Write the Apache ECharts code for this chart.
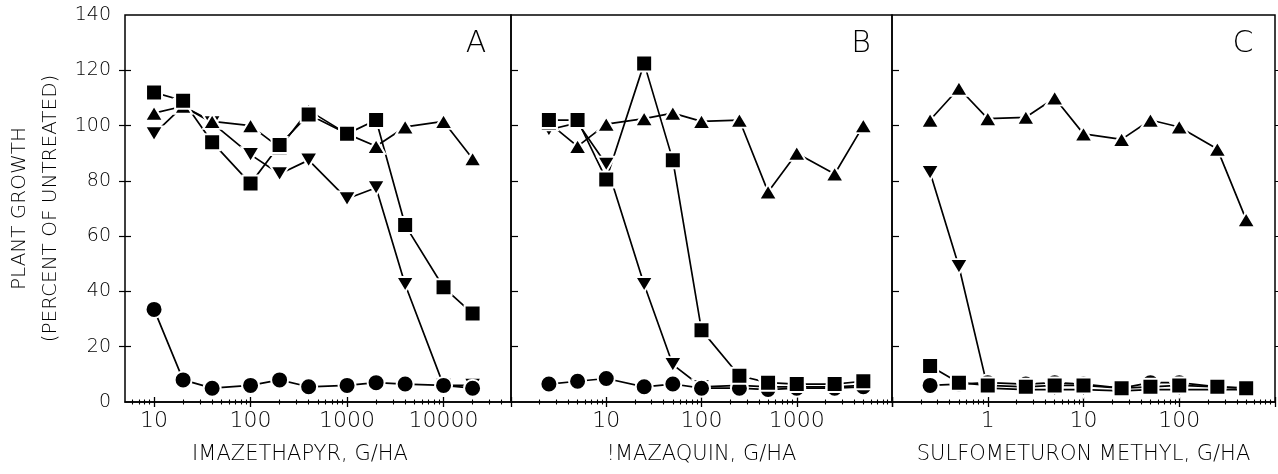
<!DOCTYPE html>
<html>
<head>
<meta charset="utf-8">
<script src="https://cdn.jsdelivr.net/npm/echarts@6/dist/echarts.min.js"></script>
<style>
  html, body { margin: 0; padding: 0; background: #fff; }
  #chart { width: 1278px; height: 474px; }
</style>
</head>
<body>
<div id="chart"></div>
<script>
// Plant growth (percent of untreated) versus herbicide rate, three herbicides.
const yTickValues = [20, 40, 60, 80, 100, 120];

// A: imazethapyr
const doseA   = [10, 20, 40, 100, 200, 400, 1000, 2000, 4000, 10000, 20000];
const squareA = [112, 109, 94, 79, 93, 104, 97, 102, 64, 41.5, 32];
const upA     = [104.5, 107, 101.5, 100, 92, 105.5, 97, 92.5, 99.5, 101.5, 88];
const downA   = [97, 107, 101, 89.5, 82.5, 87.5, 73.5, 77.5, 42.5, 6, 6];
const circleA = [33.5, 8, 5, 6, 8, 5.5, 6, 7, 6.5, 6, 5];
const labelsA = [10, 100, 1000, 10000];

// B: imazaquin
const doseB   = [2.5, 5, 10, 25, 50, 100, 250, 500, 1000, 2500, 5000];
const squareB = [102, 102, 80.5, 122.5, 87.5, 26, 9.5, 7, 6.5, 6.5, 7.5];
const upB     = [101, 92.5, 100.5, 102.5, 104.5, 101.5, 102, 76, 90, 82.5, 100];
const downB   = [98.5, 101, 86, 42.5, 13.5, 5.5, 6, 5.5, 5.5, 5.5, 6];
const circleB = [6.5, 7.5, 8.5, 5.5, 6.5, 5, 5, 4.5, 5, 5, 5.5];
const labelsB = [10, 100, 1000];

// C: sulfometuron methyl
const doseC   = [0.25, 0.5, 1, 2.5, 5, 10, 25, 50, 100, 250, 500];
const squareC = [13, 7, 6, 5.5, 6, 6, 5, 5.5, 6, 5.5, 5];
const upC     = [102, 113.5, 102.5, 103, 110, 97, 95, 102, 99.5, 91.5, 66];
const downC   = [83, 49, 5, 4.5, 4.5, 4.5, 4, 4.5, 4.5, 4.5, 4.5];
const circleC = [6, 6.5, 7, 6.5, 7, 6.5, 5, 7, 7, 5.5, 5];
const labelsC = [1, 10, 100];

const FONT = "'DejaVu Sans', 'Liberation Sans', sans-serif";
const INK = '#000';

const panels = [
  { grid: { left: 125, width: 386 }, min: 5,   max: 50000, labels: labelsA,
    title: 'IMAZETHAPYR, G/HA', namePad: [0, 36, 0, 0], letter: 'A', letterX: 476,
    dose: doseA, sq: squareA, up: upA, down: downA, circ: circleA },
  { grid: { left: 511, width: 381 }, min: 1,   max: 10000, labels: labelsB,
    title: '!MAZAQUIN, G/HA', namePad: [0, 0, 0, 0], letter: 'B', letterX: 861,
    dose: doseB, sq: squareB, up: upB, down: downB, circ: circleB },
  { grid: { left: 892, width: 383 }, min: 0.1, max: 1000,  labels: labelsC,
    title: 'SULFOMETURON METHYL, G/HA', namePad: [0, 0, 0, 0], letter: 'C', letterX: 1243,
    dose: doseC, sq: squareC, up: upC, down: downC, circ: circleC }
];

// tick positions on a log axis: decades and the 2..9 multiples between them
function decadeTicks(min, max) {
  const out = [];
  for (let e = Math.floor(Math.log10(min)); e <= Math.ceil(Math.log10(max)); e++) {
    const v = Math.pow(10, e);
    if (v >= min * 0.999 && v <= max * 1.001) out.push(+v.toPrecision(6));
  }
  return out;
}
function minorTicks(min, max) {
  const out = [];
  for (let e = Math.floor(Math.log10(min)); e <= Math.ceil(Math.log10(max)); e++) {
    for (let k = 2; k <= 9; k++) {
      const v = +(k * Math.pow(10, e)).toPrecision(6);
      if (v > min * 1.001 && v < max * 0.999) out.push(v);
    }
  }
  return out;
}

const grids = [], xAxes = [], yAxes = [], series = [], graphics = [];

panels.forEach((p, i) => {
  grids.push({ left: p.grid.left, width: p.grid.width, top: 15, height: 387,
    show: true, borderColor: INK, borderWidth: 1.5, backgroundColor: 'transparent' });

  const mainX = xAxes.length;
  // axis carrying the labels and title
  xAxes.push({
    type: 'log', logBase: 10, gridIndex: i, min: p.min, max: p.max, position: 'bottom',
    axisLine: { show: true, lineStyle: { color: INK, width: 1.5 } },
    axisTick: { show: false },
    splitLine: { show: false }, minorSplitLine: { show: false },
    axisLabel: { show: true, customValues: p.labels, margin: 8, color: INK,
      fontFamily: FONT, fontSize: 22, fontWeight: 200,
      formatter: v => String(+Number(v).toPrecision(6)) },
    name: p.title, nameLocation: 'middle', nameGap: 41,
    nameTextStyle: { fontFamily: FONT, fontSize: 21, fontWeight: 200, color: INK,
      lineHeight: 24, padding: p.namePad }
  });
  // decade ticks crossing the axis line
  xAxes.push({
    type: 'log', logBase: 10, gridIndex: i, min: p.min, max: p.max, position: 'bottom', offset: -5,
    axisLine: { show: false }, splitLine: { show: false }, axisLabel: { show: false },
    axisTick: { show: true, customValues: decadeTicks(p.min, p.max), length: 10,
      lineStyle: { color: INK, width: 1.3 } }
  });
  // intermediate ticks crossing the axis line
  xAxes.push({
    type: 'log', logBase: 10, gridIndex: i, min: p.min, max: p.max, position: 'bottom', offset: -2.5,
    axisLine: { show: false }, splitLine: { show: false }, axisLabel: { show: false },
    axisTick: { show: true, customValues: minorTicks(p.min, p.max), length: 5,
      lineStyle: { color: INK, width: 1.1 } }
  });

  const mainY = yAxes.length;
  if (i === 0) {
    yAxes.push({
      type: 'value', gridIndex: i, min: 0, max: 140, interval: 20, position: 'left',
      axisLine: { show: false }, axisTick: { show: false }, splitLine: { show: false },
      axisLabel: { show: true, margin: 14, color: INK, fontFamily: FONT, fontSize: 19, fontWeight: 200 },
      name: 'PLANT GROWTH\n(PERCENT OF UNTREATED)', nameLocation: 'middle', nameRotate: 90, nameGap: 59,
      nameTextStyle: { fontFamily: FONT, fontSize: 20, fontWeight: 200, color: INK, lineHeight: 31 }
    });
    yAxes.push({
      type: 'value', gridIndex: i, min: 0, max: 140, interval: 20, position: 'left', offset: -6,
      axisLine: { show: false }, splitLine: { show: false }, axisLabel: { show: false },
      axisTick: { show: true, customValues: yTickValues, length: 12, lineStyle: { color: INK, width: 1.2 } }
    });
  } else {
    yAxes.push({
      type: 'value', gridIndex: i, min: 0, max: 140, interval: 20, position: 'left',
      axisLine: { show: false }, splitLine: { show: false }, axisLabel: { show: false },
      axisTick: { show: true, inside: true, customValues: yTickValues, length: 7,
        lineStyle: { color: INK, width: 1.2 } }
    });
    if (i === 2) {
      yAxes.push({
        type: 'value', gridIndex: i, min: 0, max: 140, interval: 20, position: 'right',
        axisLine: { show: false }, splitLine: { show: false }, axisLabel: { show: false },
        axisTick: { show: true, customValues: yTickValues, length: 3, lineStyle: { color: INK, width: 1 } }
      });
    }
  }

  const sets = [
    { vals: p.down, symbol: 'triangle', size: [18, 15], rotate: 180 },
    { vals: p.up,   symbol: 'triangle', size: [18, 15], rotate: 0 },
    { vals: p.circ, symbol: 'circle',   size: 17, rotate: 0 },
    { vals: p.sq,   symbol: 'rect',     size: 16, rotate: 0 }
  ];
  // connecting lines first, markers drawn above all lines
  sets.forEach(s => {
    series.push({
      type: 'line', xAxisIndex: mainX, yAxisIndex: mainY, z: 2,
      data: p.dose.map((d, k) => [d, s.vals[k]]),
      showSymbol: false, silent: true, animation: false,
      lineStyle: { color: INK, width: 1.7 }
    });
  });
  sets.forEach(s => {
    series.push({
      type: 'scatter', xAxisIndex: mainX, yAxisIndex: mainY, z: 3,
      data: p.dose.map((d, k) => [d, s.vals[k]]),
      symbol: s.symbol, symbolSize: s.size, symbolRotate: s.rotate, animation: false,
      itemStyle: { color: '#000', borderColor: '#fff', borderWidth: 2, opacity: 1 }
    });
  });

  graphics.push({ type: 'text', x: p.letterX, y: 44,
    style: { text: p.letter, fontFamily: FONT, fontSize: 30, fontWeight: 200, fill: INK,
      align: 'center', verticalAlign: 'middle' } });
});

const chart = echarts.init(document.getElementById('chart'), null, { renderer: 'canvas' });
chart.setOption({
  backgroundColor: '#fff',
  animation: false,
  grid: grids,
  xAxis: xAxes,
  yAxis: yAxes,
  series: series,
  graphic: graphics
});
</script>
</body>
</html>
